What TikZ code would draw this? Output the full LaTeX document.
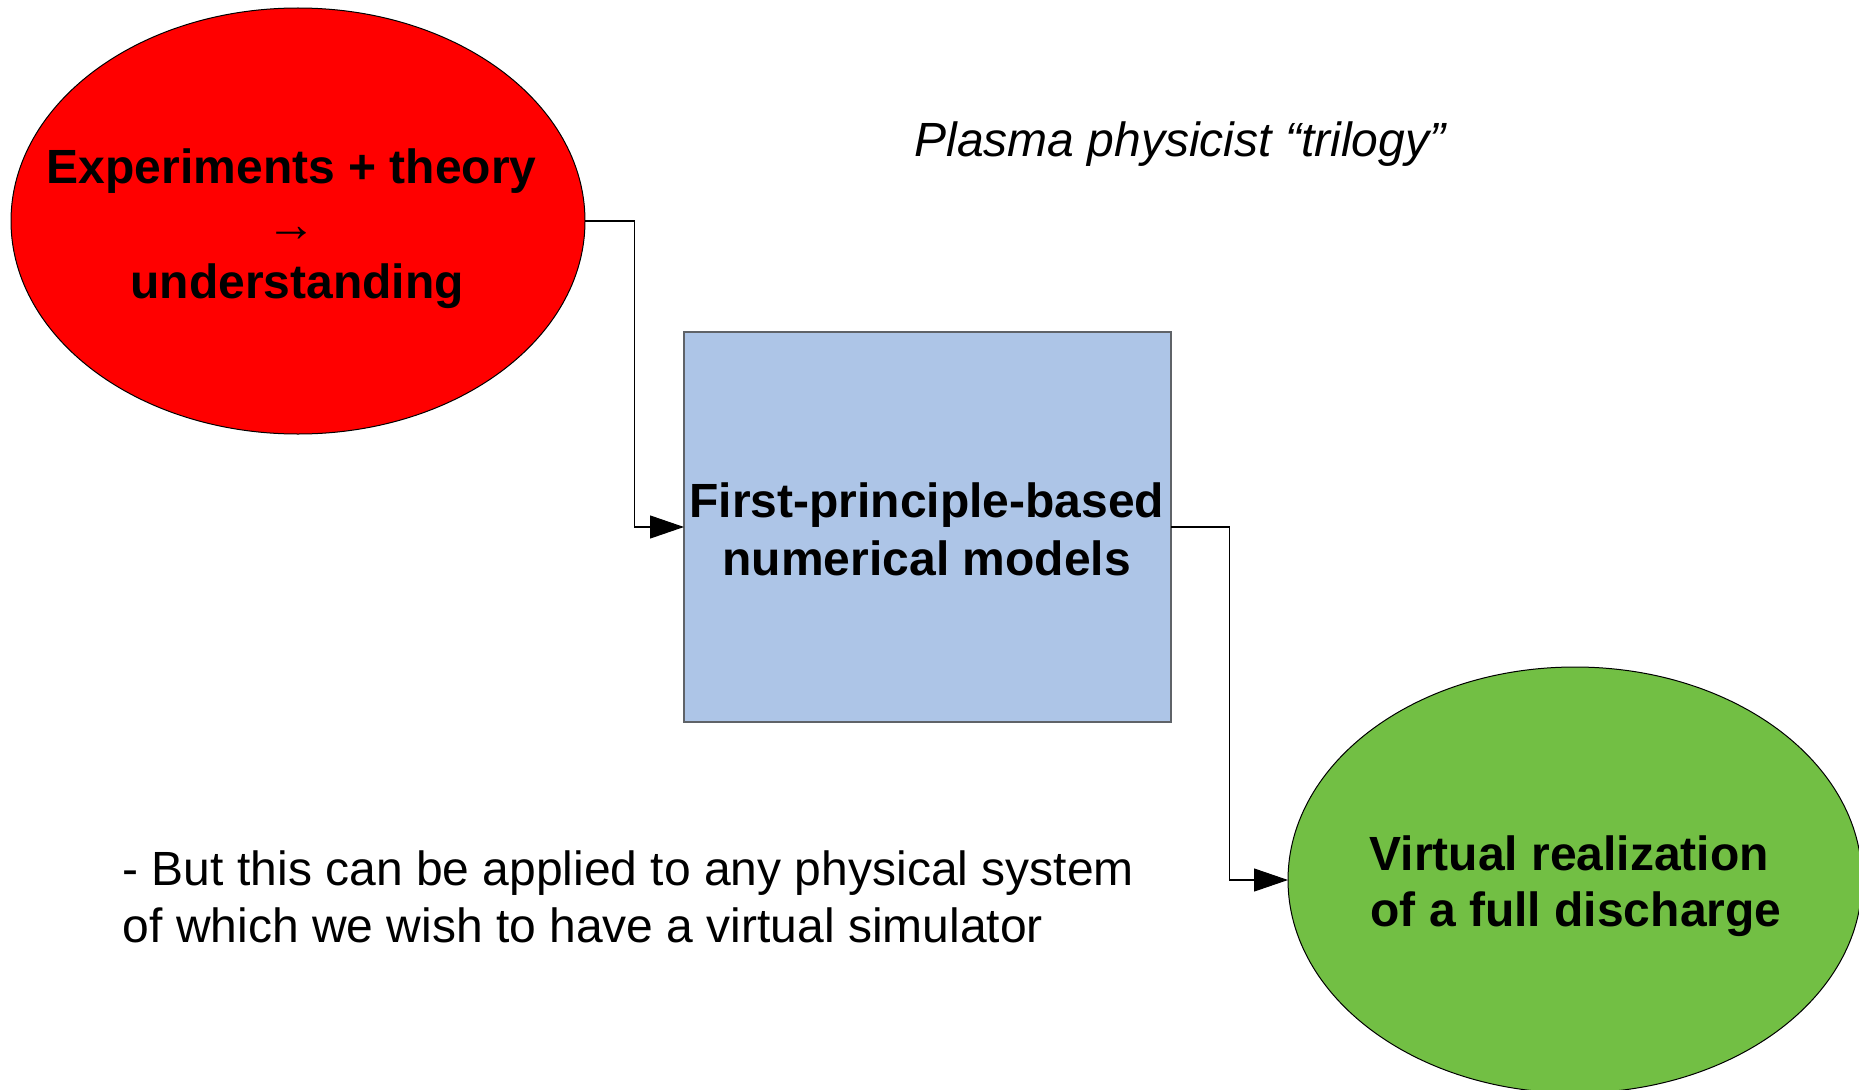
\documentclass[tikz,border=0pt]{standalone}
\usepackage{fontspec}
\setmainfont{Liberation Sans}
\usetikzlibrary{shapes.geometric,arrows.meta,calc}
\definecolor{hotred}{HTML}{FF0000}
\definecolor{paleblue}{HTML}{ADC5E7}
\definecolor{leafgreen}{HTML}{72BF44}
\definecolor{framegrey}{HTML}{5F6368}

\begin{document}
\begin{tikzpicture}[x=1pt,y=-1pt,
  blob/.style={ellipse, draw=black, line width=1pt, minimum width=574pt,
    minimum height=426pt, inner sep=0pt, outer sep=0pt},
  panel/.style={rectangle, draw=framegrey, line width=1.2pt, fill=paleblue,
    minimum width=487pt, minimum height=390pt, inner sep=0pt, outer sep=0pt},
  heavy/.style={font=\fontsize{48}{57.5}\selectfont\bfseries, inner sep=0pt, anchor=base},
  light/.style={font=\fontsize{48}{57.5}\selectfont, inner sep=0pt, anchor=base west},
  conn/.style={draw=black, line width=1.1pt, -{Triangle[length=34pt,width=23pt]}}
]
\useasboundingbox (0,0) rectangle (1859,1089);
\fill[white] (0,0) rectangle (1859,1089);

% the three stages
\node[blob, fill=hotred] (exp) at (298,221) {};
\node[panel] (models) at (927.5,527) {};
\node[blob, fill=leafgreen] (virt) at (1575,880) {};

% stage texts
\node[heavy] (exp1) at (291.7,183.3) {Experiments + theory};
\node[font=\fontsize{50}{57.5}\selectfont, inner sep=0pt, anchor=base] (exp2) at (291.3,241.5) {→};
\node[heavy] (exp3) at (297.2,298.3) {understanding};

\node[heavy] (mod1) at (926.7,517.3) {First-principle-based};
\node[heavy] (mod2) at (926.7,575) {numerical models};

\node[heavy] (virt1) at (1569.2,870.7) {Virtual realization};
\node[heavy] (virt2) at (1576,926.7) {of a full discharge};

% title and remark
\node[font=\fontsize{48}{57.5}\selectfont\itshape, inner sep=0pt, anchor=base] (title) at (1180,156) {Plasma physicist “trilogy”};
\node[light] (note1) at (122.5,885) {- But this can be applied to any physical system};
\node[light] (note2) at (122.5,942) {of which we wish to have a virtual simulator};

% connectors
\draw[conn] (exp.east) -| ($(exp.east)!.5!(models.west)$) |- (models.west);
\draw[conn] (models.east) -| ($(models.east)!.5!(virt.west)$) |- (virt.west);
\end{tikzpicture}
\end{document}
